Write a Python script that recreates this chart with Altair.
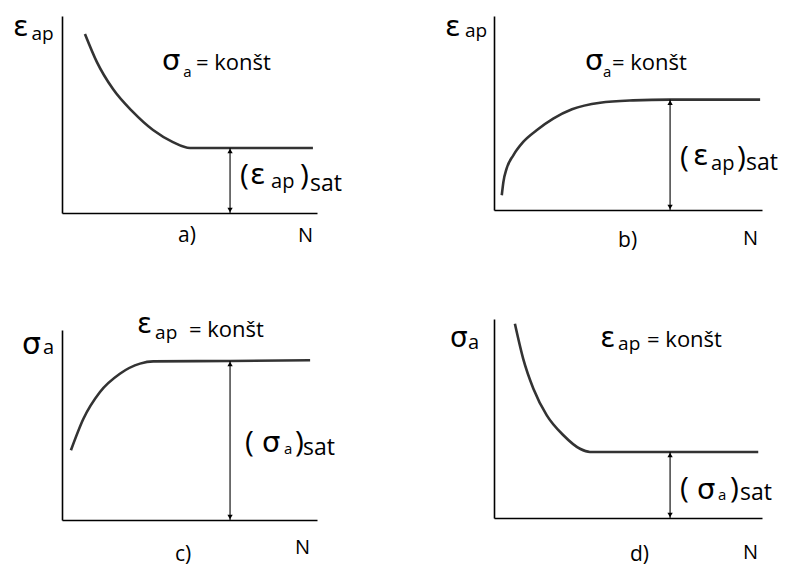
import altair as alt
import pandas as pd

# ---- data (schematic curves; N and value on 0..10 scales) ----
# a) eps_ap vs N at sigma_a = const (decreasing to saturation)
a_N = [0.90, 1.37, 2.00, 2.78, 3.57, 4.35, 5.02, 9.84]
a_v = [9.09, 7.66, 6.29, 5.13, 4.21, 3.60, 3.30, 3.30]
# b) eps_ap vs N at sigma_a = const (increasing to saturation)
b_N = [0.29, 0.35, 0.47, 0.72, 1.09, 1.59, 2.21, 2.91, 3.96, 5.19, 6.57, 9.93]
b_v = [0.76, 1.44, 2.13, 2.82, 3.51, 4.11, 4.71, 5.19, 5.53, 5.65, 5.69, 5.69]
# c) sigma_a vs N at eps_ap = const (increasing to saturation)
c_N = [0.35, 0.84, 1.49, 2.27, 3.06, 3.58, 6.59, 9.73]
c_v = [3.67, 5.33, 6.74, 7.70, 8.23, 8.35, 8.37, 8.41]
# d) sigma_a vs N at eps_ap = const (decreasing to saturation)
d_N = [0.78, 1.09, 1.47, 1.97, 2.59, 3.21, 3.58, 6.57, 9.86]
d_v = [9.76, 8.00, 6.50, 5.16, 4.16, 3.48, 3.32, 3.32, 3.32]

# saturation arrows: position along N and saturated value
sat_N = [6.59, 6.57, 6.59, 6.57]
sat_v = [3.30, 5.69, 8.37, 3.32]

# text pieces per panel: (text, N, value, font size)
a_txt = [("ε", -1.92, 9.00, 29), ("ap", -1.20, 8.80, 19),
         ("σ", 3.92, 7.26, 29), ("a", 4.75, 6.90, 15), ("= konšt", 5.25, 7.26, 22),
         ("(", 6.98, 1.42, 30), ("ε", 7.37, 1.47, 29), ("ap", 8.20, 1.27, 20),
         (")", 9.33, 1.42, 30), ("sat", 9.73, 1.12, 23),
         ("a)", 4.55, -1.47, 21), ("N", 9.25, -1.47, 20)]
b_txt = [("ε", -1.83, 8.95, 29), ("ap", -1.08, 8.90, 19),
         ("σ", 3.40, 7.22, 29), ("a", 4.07, 6.86, 15), ("= konšt", 4.40, 7.22, 22),
         ("(", 6.94, 2.22, 30), ("ε", 7.43, 2.32, 29), ("ap", 8.10, 2.06, 20),
         (")", 9.07, 2.22, 30), ("sat", 9.40, 2.06, 23),
         ("b)", 4.63, -1.91, 21), ("N", 9.29, -1.80, 20)]
c_txt = [("σ", -1.57, 8.74, 30), ("a", -0.75, 8.74, 20),
         ("ε", 2.94, 9.84, 28), ("ap", 3.65, 9.53, 19), ("= konšt", 4.98, 9.63, 22),
         ("(", 7.18, 3.58, 30), ("σ", 7.84, 3.58, 29), ("a", 8.71, 3.47, 15),
         (")", 9.14, 3.58, 30), ("sat", 9.45, 3.42, 23),
         ("c)", 4.43, -2.15, 21), ("N", 9.14, -1.79, 20)]
d_txt = [("σ", -1.64, 8.59, 28), ("a", -0.97, 8.49, 20),
         ("ε", 3.96, 8.59, 28), ("ap", 4.63, 8.44, 19), ("= konšt", 5.71, 8.59, 22),
         ("(", 6.94, 1.01, 30), ("σ", 7.57, 0.95, 29), ("a", 8.36, 0.90, 15),
         (")", 8.81, 1.01, 30), ("sat", 9.18, 0.90, 23),
         ("d)", 5.07, -2.15, 21), ("N", 9.29, -2.06, 20)]

LATIN_FONT = "Open Sans"
GREEK_FONT = "DejaVu Sans"
GREEK = {"ε", "σ"}


def panel(Ns, vs, sN, sv, txt, w, h, top_gap=0):
    ax = dict(labels=False, ticks=False, grid=False, title=None,
              domainColor="black", domainWidth=1.6)
    x = alt.X("N:Q", scale=alt.Scale(domain=[0, 10], nice=False, zero=False),
              axis=alt.Axis(**ax))
    y = alt.Y("v:Q", scale=alt.Scale(domain=[0, 10], nice=False, zero=False,
                                     range=[h, top_gap]),
              axis=alt.Axis(**ax))
    curve = alt.Chart(pd.DataFrame({"N": Ns, "v": vs})).mark_line(
        interpolate="monotone", color="#333333", strokeWidth=2.6
    ).encode(x=x, y=y)
    arrow_df = pd.DataFrame({"N": [sN], "v": [0.0], "v2": [sv]})
    shaft = alt.Chart(arrow_df).mark_rule(color="black", strokeWidth=1.1).encode(
        x=x, y=y, y2="v2:Q")
    head_top = alt.Chart(pd.DataFrame({"N": [sN], "v": [sv]})).mark_point(
        shape="triangle-up", filled=True, color="black", size=28, yOffset=3, opacity=1
    ).encode(x=x, y=y)
    head_bot = alt.Chart(pd.DataFrame({"N": [sN], "v": [0.0]})).mark_point(
        shape="triangle-down", filled=True, color="black", size=28, yOffset=-3, opacity=1
    ).encode(x=x, y=y)
    tdf = pd.DataFrame(txt, columns=["t", "N", "v", "s"])
    tdf["g"] = tdf["t"].isin(GREEK)
    latin = alt.Chart(tdf[~tdf["g"]]).mark_text(
        align="left", baseline="alphabetic", font=LATIN_FONT, color="black"
    ).encode(x=x, y=y, text="t:N", size=alt.Size("s:Q", scale=None))
    greek = alt.Chart(tdf[tdf["g"]]).mark_text(
        align="left", baseline="alphabetic", font=GREEK_FONT, color="black"
    ).encode(x=x, y=y, text="t:N", size=alt.Size("s:Q", scale=None))
    return alt.layer(curve, shaft, head_top, head_bot, latin, greek).properties(
        width=w, height=h)


pa = panel(a_N, a_v, sat_N[0], sat_v[0], a_txt, 255, 197)
pb = panel(b_N, b_v, sat_N[1], sat_v[1], b_txt, 268, 194)
pc = panel(c_N, c_v, sat_N[2], sat_v[2], c_txt, 255, 201, top_gap=11)
pd_ = panel(d_N, d_v, sat_N[3], sat_v[3], d_txt, 268, 199)

chart = alt.concat(
    pa, pb, pc, pd_, columns=2, align="each", bounds="flush",
    spacing={"row": 106, "column": 177},
).properties(
    padding={"left": 5, "top": 4, "right": 0, "bottom": 4},
    background="white",
).configure_view(stroke=None)

chart.save("out.html", embed_options={"renderer": "svg", "actions": False})
